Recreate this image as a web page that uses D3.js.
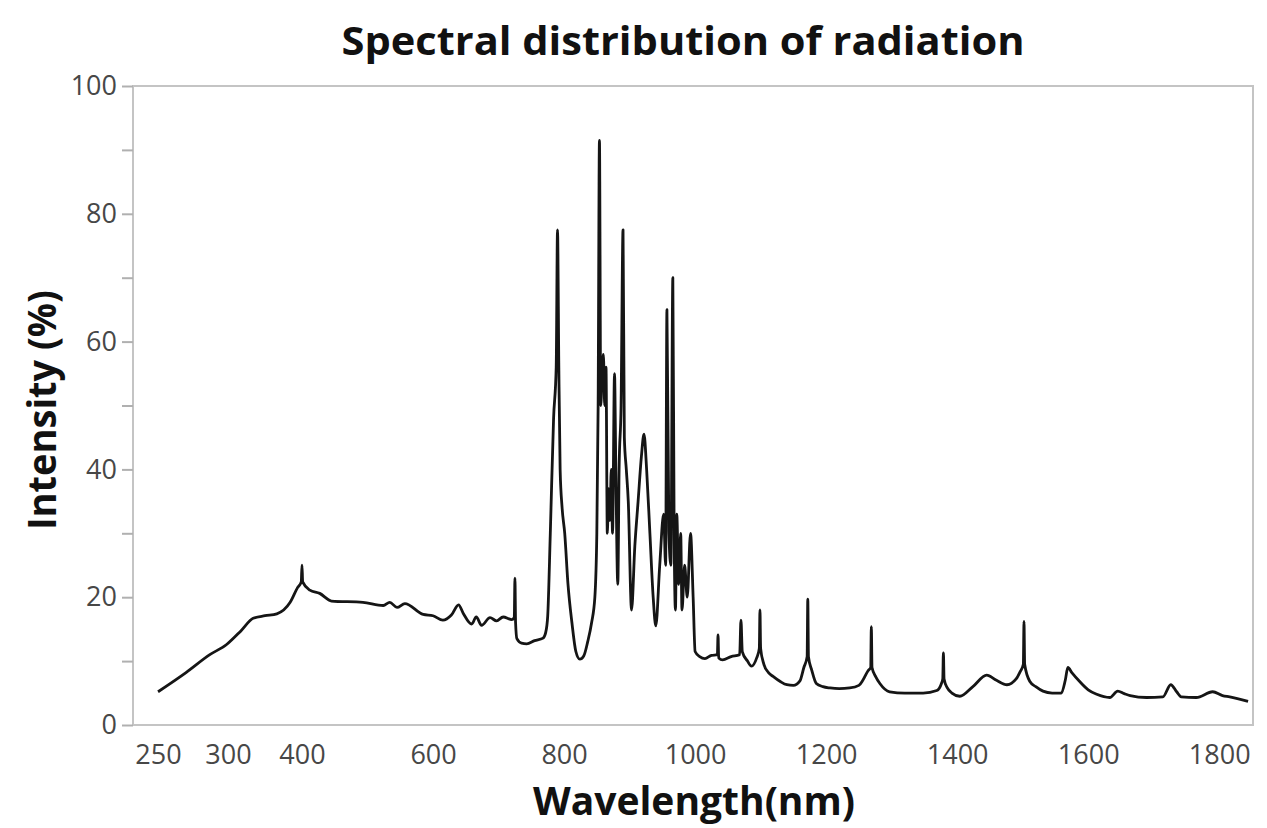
<!DOCTYPE html>
<html lang="en">
<head>
    <meta charset="UTF-8">
    <title>Spectral distribution of radiation</title>
    <style type="text/css">
        body { margin:0; background:#fff }
        svg text { font-family:"Open Sans", sans-serif }
        .tick text { fill:#474747; font-size:27px }
    </style>
</head>
<body>
<script src="https://d3js.org/d3.v7.min.js"></script>
<script>
    // wavelength (nm) / intensity (%)
    var wavelength = [
        250, 270, 287, 299, 318, 334, 350, 366, 384, 394, 399, 400, 401, 412, 427, 445,
        493, 524, 534, 545, 557, 585, 600, 615, 628, 639, 646, 659, 666, 674, 687, 697,
        707, 720, 724, 725, 726, 728, 735, 743, 755, 768, 772, 775, 779, 784, 788, 790,
        792, 794, 797, 801, 806, 812, 818, 824, 830, 836, 842, 847, 850, 852, 854, 856,
        858, 860, 862, 864, 866, 868, 870, 872, 874, 877, 879, 882, 884, 887, 890, 892,
        895, 898, 903, 908, 913, 918, 922, 926, 931, 936, 940, 946, 952, 955, 957, 960,
        963, 966, 968, 970, 972, 975, 978, 980, 984, 988, 993, 997, 1000, 1007, 1015, 1025,
        1034, 1035, 1036, 1042, 1055, 1068, 1070, 1072, 1080, 1086, 1094, 1098, 1099, 1100, 1105, 1112,
        1119, 1130, 1140, 1150, 1160, 1166, 1171, 1172, 1173, 1178, 1185, 1195, 1206, 1220, 1236, 1250,
        1256, 1264, 1268, 1269, 1270, 1276, 1282, 1297, 1320, 1348, 1369, 1376, 1378, 1379, 1380, 1385,
        1392, 1404, 1424, 1445, 1460, 1476, 1490, 1496, 1501, 1502, 1503, 1511, 1520, 1531, 1545, 1559,
        1565, 1569, 1575, 1587, 1600, 1613, 1633, 1645, 1655, 1664, 1689, 1714, 1726, 1735, 1742, 1765,
        1790, 1805, 1816, 1844
    ];
    var intensity = [
        5.2, 8.2, 11.0, 12.6, 14.8, 16.7, 17.1, 17.4, 19.2, 21.5, 22.4, 25.0, 22.4, 21.1, 20.6, 19.4,
        19.2, 18.7, 19.2, 18.4, 19.0, 17.3, 17.1, 16.4, 17.2, 18.8, 17.5, 15.8, 16.9, 15.6, 16.8, 16.3,
        16.9, 16.5, 16.8, 23.0, 16.0, 13.5, 12.8, 12.7, 13.2, 13.6, 14.5, 17, 30, 48, 56, 77.5,
        56, 40, 34, 30, 22, 16, 11.5, 10.3, 10.8, 13, 16, 20, 30, 50, 91.5, 50,
        55, 58, 50, 56, 30, 37, 32, 40, 30, 55, 40, 22, 40, 50, 77.5, 45,
        40, 35, 18, 28, 35, 42, 45.5, 40, 30, 20, 15.5, 25, 33, 25, 65, 30,
        25, 70, 30, 18, 33, 22, 30, 18, 25, 20, 30, 20, 11.5, 10.7, 10.4, 10.9,
        11, 14.1, 10.5, 10.2, 10.7, 11, 16.4, 11.5, 10, 9.2, 10.5, 12, 18, 12, 9.5, 8.2,
        7.6, 6.8, 6.3, 6.2, 6.9, 9.0, 10.7, 19.7, 10.7, 8.6, 6.5, 6.0, 5.8, 5.7, 5.8, 6.2,
        7.0, 8.5, 9.0, 15.4, 9.0, 7.5, 6.5, 5.2, 5.0, 5.0, 5.4, 6.5, 7.2, 11.3, 7.2, 5.8,
        5.0, 4.5, 6.0, 7.8, 7.0, 6.3, 7.2, 8.3, 9.5, 16.2, 9.5, 6.8, 6.0, 5.3, 5.0, 5.0,
        7.0, 9.0, 8.2, 6.8, 5.5, 4.8, 4.3, 5.3, 4.9, 4.6, 4.3, 4.4, 6.3, 5.2, 4.4, 4.3,
        5.2, 4.6, 4.4, 3.7
    ];
    var xTicks = [250, 300, 400, 600, 800, 1000, 1200, 1400, 1600, 1800];
    var yTicks = [0, 10, 20, 30, 40, 50, 60, 70, 80, 90, 100];

    var width = 1267,
        height = 828,
        plotLeft = 133, plotRight = 1253, plotTop = 86, plotBottom = 725;

    var svg = d3.select('body').append('svg')
        .attr('width', width)
        .attr('height', height);

    // the printed axis is squeezed below 400 nm, so the scale is piecewise
    var xScale = d3.scaleLinear()
        .domain([250, 300, 400, 1850])
        .range([158, 228, 302, 1252]);
    var yScale = d3.scaleLinear().domain([0, 100]).range([plotBottom, plotTop]);

    svg.append('rect')
       .attr('x', plotLeft).attr('y', plotTop)
       .attr('width', plotRight - plotLeft).attr('height', plotBottom - plotTop)
       .attr('fill', 'none')
       .attr('stroke', '#c4c4c4')
       .attr('stroke-width', 2);

    var yAxis = d3.axisLeft(yScale)
        .tickValues(yTicks)
        .tickSize(11)
        .tickPadding(5)
        .tickFormat(function(d){ return d % 20 === 0 ? d : ''; });

    var gy = svg.append('g')
       .attr('transform', 'translate(' + plotLeft + ',0)')
       .call(yAxis);
    gy.select('.domain').remove();
    gy.selectAll('.tick line').attr('stroke', '#b0b0b0').attr('stroke-width', 2);

    var xAxis = d3.axisBottom(xScale)
        .tickValues(xTicks)
        .tickSize(0)
        .tickPadding(20)
        .tickFormat(d3.format('d'));

    var gx = svg.append('g')
       .attr('transform', 'translate(0,' + plotBottom + ')')
       .call(xAxis);
    gx.select('.domain').remove();

    var line = d3.line()
        .x(function(d){ return xScale(d[0]); })
        .y(function(d){ return yScale(d[1]); })
        .curve(d3.curveMonotoneX);

    svg.append('path')
       .datum(d3.zip(wavelength, intensity))
       .attr('d', line)
       .attr('fill', 'none')
       .attr('stroke', '#151515')
       .attr('stroke-width', 2.8)
       .attr('stroke-linejoin', 'round');

    svg.append('text')
       .attr('x', 683).attr('y', 55)
       .attr('text-anchor', 'middle')
       .attr('font-size', 39).attr('font-weight', 'bold')
       .attr('textLength', 683).attr('lengthAdjust', 'spacingAndGlyphs')
       .attr('fill', '#111')
       .text('Spectral distribution of radiation');

    svg.append('text')
       .attr('x', 694).attr('y', 815)
       .attr('text-anchor', 'middle')
       .attr('font-size', 39).attr('font-weight', 'bold')
       .attr('fill', '#111')
       .text('Wavelength(nm)');

    svg.append('text')
       .attr('transform', 'translate(56,410) rotate(-90)')
       .attr('text-anchor', 'middle')
       .attr('font-size', 39).attr('font-weight', 'bold')
       .attr('textLength', 240).attr('lengthAdjust', 'spacingAndGlyphs')
       .attr('fill', '#111')
       .text('Intensity (%)');
</script>
</body>
</html>
